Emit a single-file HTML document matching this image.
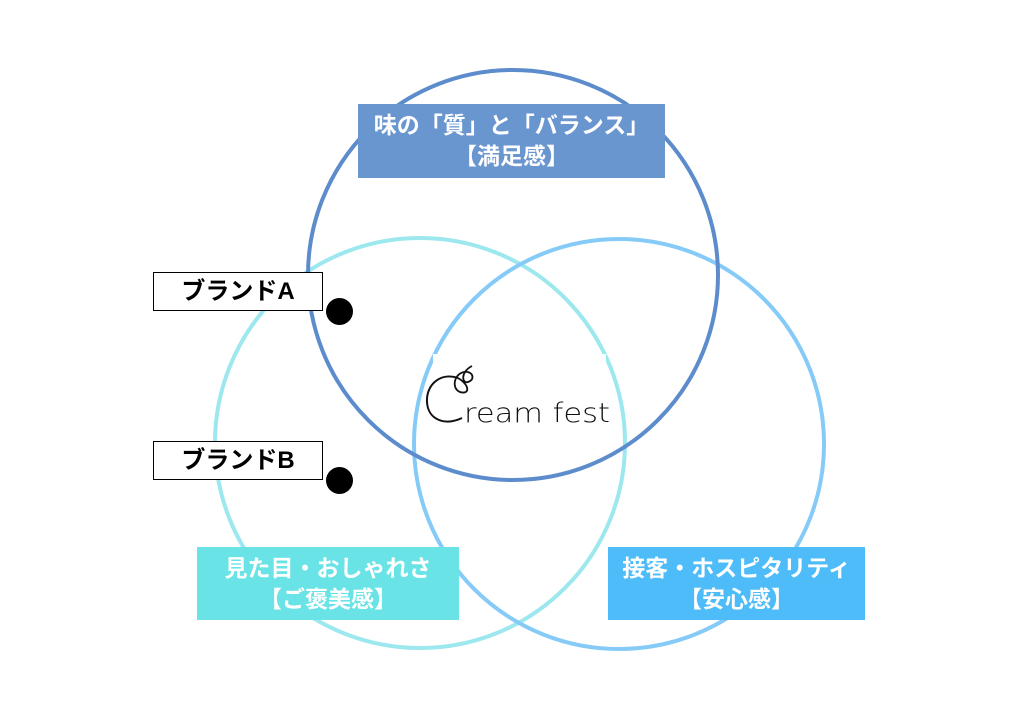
<!DOCTYPE html>
<html><head><meta charset="utf-8"><style>
body{margin:0;width:1024px;height:724px;background:#fff;position:relative;overflow:hidden;font-family:"Liberation Sans","Noto Sans CJK JP",sans-serif}
.lb{position:absolute;color:#fff;font-weight:bold;font-size:23px;text-align:center;line-height:31px;display:flex;flex-direction:column;justify-content:center}
.br{position:absolute;left:153px;width:168px;height:37px;border:1.5px solid #000;background:#fff;font-size:24px;line-height:37px;text-align:center;font-weight:bold}
.dot{position:absolute;width:27px;height:27px;border-radius:50%;background:#000}
</style></head><body>
<svg width="1024" height="724" style="position:absolute;left:0;top:0">
<circle cx="420" cy="443" r="205" fill="none" stroke="#9ce8ee" stroke-width="4"/>
<circle cx="619" cy="444" r="205" fill="none" stroke="#86cbf7" stroke-width="4"/>
<circle cx="513" cy="275" r="205" fill="none" stroke="#5d8ccc" stroke-width="4"/>
<rect x="433" y="354" width="173" height="72" fill="#fff"/>
<path d="M458 378 C440 372 426 385 427 402 C428 420 445 426 462 418" fill="none" stroke="#111" stroke-width="2"/>
<path d="M458 378 C470 385 470 395 460 392 C450 388 455 370 468 372 C474 374 474 380 468 382 C462 384 460 372 472 366" fill="none" stroke="#111" stroke-width="1.8"/>
<text x="464" y="422" font-family="DejaVu Sans, sans-serif" font-size="27" font-weight="200" fill="#111" textLength="146" lengthAdjust="spacingAndGlyphs">ream fest</text>
</svg>
<div class="lb" style="left:358px;top:104px;width:307px;height:74px;background:#6a96d0">味の「質」と「バランス」<br>【満足感】</div>
<div class="lb" style="left:197px;top:547px;width:262px;height:73px;background:#6ae3e6">見た目・おしゃれさ<br>【ご褒美感】</div>
<div class="lb" style="left:608px;top:547px;width:257px;height:73px;background:#4dbcf9">接客・ホスピタリティ<br>【安心感】</div>
<div class="br" style="top:272px">ブランドA</div>
<div class="br" style="top:441px">ブランドB</div>
<div class="dot" style="left:326px;top:298px"></div>
<div class="dot" style="left:326px;top:467px"></div>
</body></html>
